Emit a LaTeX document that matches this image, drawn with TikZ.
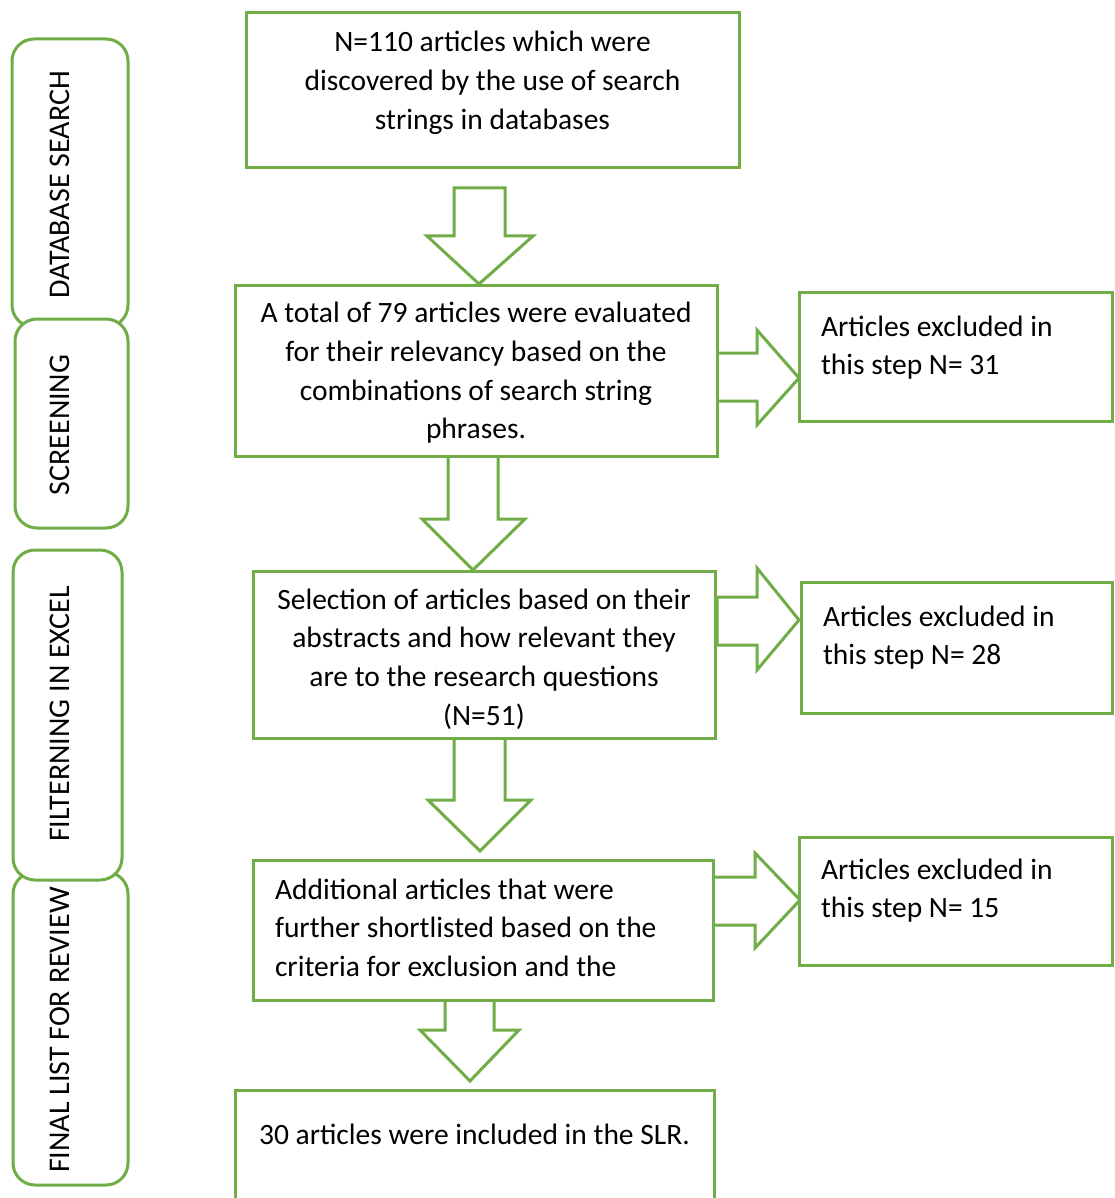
\documentclass[tikz,border=0pt]{standalone}
\usepackage{fontspec}
\setmainfont{Carlito}
\definecolor{lgreen}{HTML}{70AD47}
\begin{document}
\begin{tikzpicture}[x=1pt,y=-1pt,
  box/.style={draw=lgreen, line width=3pt, fill=white, inner sep=0pt, outer sep=0pt},
  side/.style={box, rounded corners=22pt},
  blockarrow/.style={draw=lgreen, line width=3pt, fill=white, line join=miter},
  txt/.style={font=\fontsize{29.5}{38.7}\selectfont, inner sep=0pt, outer sep=0pt, text=black},
  sidetxt/.style={font=\fontsize{30}{38.7}\selectfont, inner sep=0pt, outer sep=0pt, text=black, rotate=90},
]
\useasboundingbox (0,0) rectangle (1114,1198);
\clip (0,0) rectangle (1114,1198);

% side stage labels
\node[side, minimum width=116pt, minimum height=288pt] (s1) at (70,183) {};
\node[side, minimum width=113pt, minimum height=209pt] (s2) at (71.5,423.5) {};
\node[side, minimum width=115pt, minimum height=313pt] (s4) at (70.5,1028.5) {};
\node[side, minimum width=109pt, minimum height=330pt] (s3) at (67.5,715) {};
\node[sidetxt] (s1t) at (60,185) {DATABASE SEARCH};
\node[sidetxt] (s2t) at (60,425) {SCREENING};
\node[sidetxt] (s3t) at (60,714) {FILTERNING IN EXCEL};
\node[sidetxt] (s4t) at (60,1030) {FINAL LIST FOR REVIEW};

% block arrows (down)
\draw[blockarrow] (454,188) -- (505,188) -- (505,236) -- (533,236) -- (479,284) -- (427,236) -- (454,236) -- cycle;
\draw[blockarrow] (448,456) -- (498,456) -- (498,519) -- (525,519) -- (473,570) -- (422,519) -- (448,519) -- cycle;
\draw[blockarrow] (454,738) -- (505,738) -- (505,800) -- (531,800) -- (480,851) -- (428,800) -- (454,800) -- cycle;
\draw[blockarrow] (445,1000) -- (494,1000) -- (494,1030) -- (519,1030) -- (470,1081) -- (420,1030) -- (445,1030) -- cycle;
% block arrows (right)
\draw[blockarrow] (717,353) -- (757,353) -- (757,330) -- (799,378) -- (757,425) -- (757,401) -- (717,401) -- cycle;
\draw[blockarrow] (717,597) -- (757,597) -- (757,568) -- (799,620) -- (757,670) -- (757,645) -- (717,645) -- cycle;
\draw[blockarrow] (713,877) -- (755,877) -- (755,853) -- (800,900) -- (755,948) -- (755,925) -- (713,925) -- cycle;

% main boxes
\node[box, minimum width=493pt, minimum height=155pt] (b1) at (492.5,90.5) {};
\node[box, minimum width=482pt, minimum height=171pt] (b2) at (476,370.5) {};
\node[box, minimum width=462pt, minimum height=167pt] (b3) at (484,654.5) {};
\node[box, minimum width=460pt, minimum height=140pt] (b4) at (483,930) {};
\node[box, minimum width=479pt, minimum height=130pt] (b5) at (474.5,1155) {};
% exclusion boxes
\node[box, minimum width=313pt, minimum height=129pt] (e1) at (955.5,356.5) {};
\node[box, minimum width=311pt, minimum height=131pt] (e2) at (956.5,647.5) {};
\node[box, minimum width=313pt, minimum height=128pt] (e3) at (955.5,901) {};

% texts
\node[txt, align=center, anchor=north] (t1) at (492.5,24.9)
  {\strut N=110 articles which were\\\strut discovered by the use of search\\\strut strings in databases};
\node[txt, align=center, anchor=north] (t2) at (476,295.6)
  {\strut A total of 79 articles were evaluated\\\strut for their relevancy based on the\\\strut combinations of search string\\\strut phrases.};
\node[txt, align=center, anchor=north] (t3) at (484,582.2)
  {\strut Selection of articles based on their\\\strut abstracts and how relevant they\\\strut are to the research questions\\\strut (N=51)};
\node[txt, align=left, anchor=north west] (t4) at (275,872)
  {\strut Additional articles that were\\\strut further shortlisted based on the\\\strut criteria for exclusion and the};
\node[txt, align=center, anchor=north] (t5) at (474.5,1117)
  {\strut 30 articles were included in the SLR.};
\node[txt, align=left, anchor=north west] (te1) at (821,309)
  {\strut Articles excluded in\\\strut this step N= 31};
\node[txt, align=left, anchor=north west] (te2) at (823,599)
  {\strut Articles excluded in\\\strut this step N= 28};
\node[txt, align=left, anchor=north west] (te3) at (821,852)
  {\strut Articles excluded in\\\strut this step N= 15};
\end{tikzpicture}
\end{document}
